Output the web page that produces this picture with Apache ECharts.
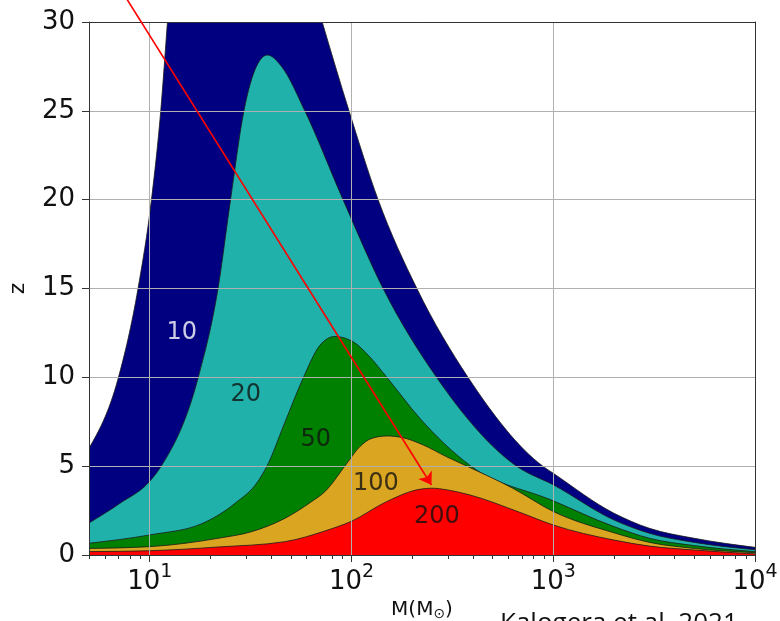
<!DOCTYPE html>
<html><head><meta charset="utf-8">
<script src="https://cdn.jsdelivr.net/npm/echarts@6/dist/echarts.min.js"></script>
<style>html,body{margin:0;padding:0;background:#fff}#c{width:780px;height:621px}</style>
</head><body><div id="c"></div>
<script>
// ---- axis ticks ----
const majorMassTicks = [10, 100, 1000, 10000];
const minorMassTicks = [5,6,7,8,9,20,30,40,50,60,70,80,90,200,300,400,500,600,700,800,900,2000,3000,4000,5000,6000,7000,8000,9000];
const zTicks = [0, 5, 10, 15, 20, 25, 30];

// ---- contour boundaries (upper edge of each filled level), M in Msun, z ----
const navyM = [5, 6.96, 8.75, 10.2, 11.34, 12.24, 13.2, 25, 53.5, 71.6, 97.2, 135.5, 210.9, 378, 888, 1000, 2000, 3000, 5000, 10000];
const navyZ = [6.0, 9.9, 15.0, 20.0, 25.0, 30, 35, 40, 35, 30, 25.0, 20.0, 15.0, 10.0, 5.0, 4.6, 2.35, 1.5, 0.94, 0.43];

const tealM = [5, 7.1, 10, 11.4, 17.4, 21.8, 25.15, 29.3, 33.8, 38.3, 45, 58.7, 90.8, 143.5, 264, 658, 1000, 2000, 3000, 5000, 10000];
const tealZ = [1.8, 2.9, 4.15, 5.0, 10.0, 15.0, 20.0, 25.0, 27.5, 28.14, 27.5, 25.0, 20.0, 15.0, 10.0, 5.0, 3.95, 1.97, 1.22, 0.71, 0.3];

const greenM = [5, 10, 18, 26.4, 34.4, 37.9, 46.7, 57.5, 69.7, 82.6, 101.9, 123, 149, 218, 386, 1000, 2000, 3000, 5000, 10000];
const greenZ = [0.66, 1.13, 1.75, 2.9, 4.15, 4.95, 7.45, 9.94, 11.8, 12.3, 12.0, 11.16, 10.03, 7.7, 5.05, 3.05, 1.6, 0.94, 0.53, 0.19];

const goldM = [5, 10, 21.8, 31.9, 46.7, 63.3, 73.7, 92.7, 110, 125, 149, 180, 226, 296, 365, 632, 1000, 2000, 3000, 5000, 10000];
const goldZ = [0.37, 0.47, 0.94, 1.31, 2.06, 3.0, 3.56, 5.0, 6.1, 6.55, 6.7, 6.6, 6.2, 5.53, 5.05, 3.75, 2.45, 1.25, 0.71, 0.37, 0.13];

const redM = [5, 10, 21.8, 46.7, 73.7, 100, 149, 218, 250, 300, 386, 683, 1000, 2000, 3000, 5000, 10000];
const redZ = [0.19, 0.24, 0.45, 0.75, 1.35, 1.9, 3.0, 3.7, 3.76, 3.66, 3.38, 2.4, 1.69, 0.84, 0.5, 0.28, 0.06];

// ---- contour labels ----
const levelNames = ['10', '20', '50', '100', '200'];
const labelM = [14.4, 29.9, 66.5, 132, 265];
const labelZ = [12.5, 9.0, 6.47, 4.0, 2.14];
const labelColors = ['#ffffff', '#111111', '#111111', '#111111', '#111111'];

// ---- annotation arrow ----
const arrowFrom = [7.5, 31.5];
const arrowTo = [249, 3.94];

const levels = [
  { name: '10', m: navyM, z: navyZ, color: '#000080' },
  { name: '20', m: tealM, z: tealZ, color: '#20b2aa' },
  { name: '50', m: greenM, z: greenZ, color: '#008000' },
  { name: '100', m: goldM, z: goldZ, color: '#daa520' },
  { name: '200', m: redM, z: redZ, color: '#ff0000' }
];

// monotone cubic (d3 monotoneX style) through pixel points -> SVG path
function sign(v) { return v < 0 ? -1 : 1; }
function smoothPath(p) {
  const n = p.length;
  const t = new Array(n);
  const s = [];
  for (let i = 0; i < n - 1; i++) s.push((p[i + 1][1] - p[i][1]) / (p[i + 1][0] - p[i][0]));
  for (let i = 1; i < n - 1; i++) {
    const h0 = p[i][0] - p[i - 1][0], h1 = p[i + 1][0] - p[i][0];
    const s0 = s[i - 1], s1 = s[i];
    const q = (s0 * h1 + s1 * h0) / (h0 + h1);
    t[i] = (sign(s0) + sign(s1)) * Math.min(Math.abs(s0), Math.abs(s1), 0.5 * Math.abs(q)) || 0;
  }
  t[0] = n > 2 ? (3 * s[0] - t[1]) / 2 : s[0];
  t[n - 1] = n > 2 ? (3 * s[n - 2] - t[n - 2]) / 2 : s[n - 2];
  let d = 'M' + p[0][0] + ' ' + p[0][1];
  for (let i = 0; i < n - 1; i++) {
    const dx = (p[i + 1][0] - p[i][0]) / 3;
    d += ' C' + (p[i][0] + dx) + ' ' + (p[i][1] + dx * t[i]) + ' ' +
      (p[i + 1][0] - dx) + ' ' + (p[i + 1][1] - dx * t[i + 1]) + ' ' +
      p[i + 1][0] + ' ' + p[i + 1][1];
  }
  return d;
}

const FONT = 'DejaVu Sans';
const chart = echarts.init(document.getElementById('c'), null, { renderer: 'canvas' });

const series = levels.map((lv, i) => ({
  type: 'custom', name: lv.name, xAxisIndex: 0, yAxisIndex: 0,
  data: lv.m.map((m, k) => [m, lv.z[k]]),
  encode: { x: 0, y: 1 },
  clip: true, z: 2 + i, animation: false, silent: true,
  renderItem: (params, api) => {
    if (params.dataIndex !== 0) return null;
    const pts = lv.m.map((m, k) => api.coord([m, lv.z[k]]));
    const b0 = api.coord([lv.m[0], 0]);
    const b1 = api.coord([lv.m[lv.m.length - 1], 0]);
    const curve = smoothPath(pts);
    return {
      type: 'group',
      children: [
        { type: 'path', shape: { pathData: curve + ' L' + b1[0] + ' ' + b1[1] + ' L' + b0[0] + ' ' + b0[1] + ' Z' },
          style: { fill: lv.color, stroke: null } },
        { type: 'path', shape: { pathData: curve },
          style: { fill: null, stroke: '#1a1a1a', lineWidth: 0.8 } }
      ]
    };
  }
}));

series.push({
  type: 'scatter', xAxisIndex: 0, yAxisIndex: 0, symbolSize: 0, z: 15, animation: false,
  data: labelM.map((m, i) => ({ value: [m, labelZ[i]], name: levelNames[i],
    label: { color: labelColors[i] } })),
  label: { show: true, position: 'inside', formatter: p => p.name, fontSize: 24, fontFamily: FONT }
});

series.push({
  type: 'lines', coordinateSystem: 'cartesian2d', xAxisIndex: 0, yAxisIndex: 0,
  clip: false, z: 20, animation: false,
  symbol: ['none', 'arrow'], symbolSize: [0, 12],
  lineStyle: { color: '#ff0000', width: 1.6, opacity: 1, curveness: 0 },
  data: [{ coords: [arrowFrom, arrowTo] }]
});

chart.setOption({
  animation: false,
  backgroundColor: '#ffffff',
  grid: { left: 89, right: 25, top: 22, bottom: 66, containLabel: false, outerBoundsMode: 'none' },
  xAxis: [
    {
      type: 'log', logBase: 10, min: 5, max: 10000, position: 'bottom', z: 10,
      name: '{a|M(M}{b|⊙}{a|)}', nameLocation: 'middle', nameGap: 40,
      nameTextStyle: { rich: {
        a: { fontSize: 20, fontFamily: FONT, color: '#111' },
        b: { fontSize: 14, fontFamily: FONT, color: '#111', verticalAlign: 'bottom', padding: [8, 0, 0, 0] }
      } },
      axisLine: { show: true, onZero: false, lineStyle: { color: '#333', width: 1 } },
      axisTick: { show: true, inside: false, length: 7, customValues: majorMassTicks, lineStyle: { color: '#333', width: 1 } },
      minorTick: { show: false },
      axisLabel: {
        customValues: majorMassTicks, margin: 8,
        formatter: v => '{b|10}{s|' + Math.round(Math.log10(v)) + '}',
        rich: {
          b: { fontSize: 26, fontFamily: FONT, color: '#111', padding: [6, 0, 0, 0] },
          s: { fontSize: 19, fontFamily: FONT, color: '#111', verticalAlign: 'top' }
        }
      },
      splitLine: { show: true, lineStyle: { color: '#b0b0b0', width: 1 } }
    },
    {
      type: 'log', logBase: 10, min: 5, max: 10000, position: 'bottom', z: 10,
      axisLine: { show: false, onZero: false },
      axisTick: { show: true, inside: false, length: 4, customValues: minorMassTicks, lineStyle: { color: '#333', width: 1 } },
      axisLabel: { show: false },
      splitLine: { show: false }
    },
    {
      type: 'log', logBase: 10, min: 5, max: 10000, position: 'top', z: 10,
      axisLine: { show: true, onZero: false, lineStyle: { color: '#333', width: 1 } },
      axisTick: { show: false }, axisLabel: { show: false }, splitLine: { show: false }
    }
  ],
  yAxis: [
    {
      type: 'value', min: 0, max: 30, interval: 5, position: 'left', z: 10,
      name: 'z', nameLocation: 'middle', nameGap: 60, nameRotate: 90,
      nameTextStyle: { fontSize: 22, fontFamily: FONT, color: '#111' },
      axisLine: { show: true, onZero: false, lineStyle: { color: '#333', width: 1 } },
      axisTick: { show: true, inside: false, length: 7, lineStyle: { color: '#333', width: 1 } },
      axisLabel: { fontSize: 26, fontFamily: FONT, color: '#111', margin: 14,
        customValues: zTicks },
      splitLine: { show: true, lineStyle: { color: '#b0b0b0', width: 1 } }
    },
    {
      type: 'value', min: 0, max: 30, position: 'right', z: 10,
      axisLine: { show: true, onZero: false, lineStyle: { color: '#333', width: 1 } },
      axisTick: { show: false }, axisLabel: { show: false }, splitLine: { show: false }
    }
  ],
  graphic: [
    { type: 'text', left: 500, top: 611, z: 30,
      style: { text: 'Kalogera et al. 2021', font: '26px "Open Sans"', fill: '#111' } }
  ],
  series: series
});
</script>
</body></html>
